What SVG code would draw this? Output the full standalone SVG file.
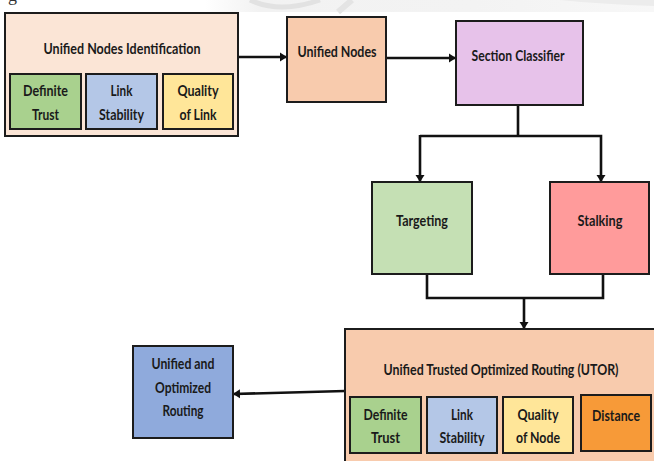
<svg xmlns="http://www.w3.org/2000/svg" width="654" height="461" viewBox="0 0 654 461">
  <defs>
    <marker id="arrow" markerUnits="userSpaceOnUse" markerWidth="9" markerHeight="10" refX="7" refY="5" orient="auto">
      <path d="M0,0.5 L7,5 L0,9.5 Z" fill="#111"/>
    </marker>
    <linearGradient id="band" x1="0" y1="0" x2="1" y2="0">
      <stop offset="0" stop-color="#ffffff"/>
      <stop offset="0.12" stop-color="#f2f2f2"/>
      <stop offset="0.6" stop-color="#f3f3f3"/>
      <stop offset="1" stop-color="#f7f7f7"/>
    </linearGradient>
    <style>
      .box { stroke: #1c1c1c; stroke-width: 2; }
      .edge { fill: none; stroke: #1c1c1c; stroke-width: 2; }
      .lbl { font-family: Lato, "Liberation Sans", sans-serif; font-weight: bold; font-size: 14.5px; fill: #1a1a1a; text-anchor: middle; }
      .wire { fill: none; stroke: #111; stroke-width: 2.6; }
    </style>
  </defs>

  <rect width="654" height="461" fill="#ffffff"/>

  <!-- faint banner strip along the top edge -->
  <g id="banner">
    <rect x="205" y="0" width="449" height="12" fill="url(#band)"/>
    <path d="M250,0 Q280,14 320,0" fill="none" stroke="#e2e2e2" stroke-width="5"/>
    <path d="M338,12 L352,0" stroke="#e4e4e4" stroke-width="6"/>
    <path d="M560,0 L654,0 L654,6 Q600,4 560,0 Z" fill="#ececec"/>
    <text x="8" y="1" font-family="'Liberation Serif', serif" font-size="18" fill="#333">g</text>
  </g>

  <!-- connectors -->
  <g id="connectors">
    <line class="wire" x1="238" y1="57" x2="287" y2="57" marker-end="url(#arrow)"/>
    <line class="wire" x1="386" y1="58" x2="456" y2="58" marker-end="url(#arrow)"/>
    <polyline class="wire" points="518,105 518,136"/>
    <polyline class="wire" points="420,136 601,136 601,182" marker-end="url(#arrow)"/>
    <line class="wire" x1="420" y1="135" x2="420" y2="182" marker-end="url(#arrow)"/>
    <polyline class="wire" points="427,274 427,298 603,298 603,274"/>
    <line class="wire" x1="524" y1="298" x2="524" y2="329" marker-end="url(#arrow)"/>
    <line class="wire" x1="345" y1="391" x2="233" y2="394" marker-end="url(#arrow)"/>
  </g>

  <!-- Unified Nodes Identification -->
  <g id="node-identification">
    <rect class="box" x="5" y="13" width="233" height="123" fill="#FBE5D6"/>
    <text class="lbl" x="122" y="54" textLength="157" lengthAdjust="spacingAndGlyphs">Unified Nodes Identification</text>
    <rect class="box" x="10" y="74" width="71" height="55" fill="#A9D18E"/>
    <text class="lbl" x="45.5" y="96" textLength="45" lengthAdjust="spacingAndGlyphs">Definite</text>
    <text class="lbl" x="45.5" y="120" textLength="27" lengthAdjust="spacingAndGlyphs">Trust</text>
    <rect class="box" x="86" y="74" width="71" height="55" fill="#B4C7E7"/>
    <text class="lbl" x="121.5" y="96" textLength="22" lengthAdjust="spacingAndGlyphs">Link</text>
    <text class="lbl" x="121.5" y="120" textLength="45" lengthAdjust="spacingAndGlyphs">Stability</text>
    <rect class="box" x="163" y="74" width="70" height="55" fill="#FFE699"/>
    <text class="lbl" x="198" y="96" textLength="41" lengthAdjust="spacingAndGlyphs">Quality</text>
    <text class="lbl" x="198" y="120" textLength="37" lengthAdjust="spacingAndGlyphs">of Link</text>
  </g>

  <!-- Unified Nodes -->
  <g id="node-unified">
    <rect class="box" x="287" y="17" width="99" height="85" fill="#F8CBAD"/>
    <text class="lbl" x="337" y="57" textLength="79" lengthAdjust="spacingAndGlyphs">Unified Nodes</text>
  </g>

  <!-- Section Classifier -->
  <g id="node-classifier">
    <rect class="box" x="456" y="21" width="127" height="84" fill="#E7C2EA"/>
    <text class="lbl" x="518" y="61" textLength="93" lengthAdjust="spacingAndGlyphs">Section Classifier</text>
  </g>

  <!-- Targeting -->
  <g id="node-targeting">
    <rect class="box" x="372" y="182" width="100" height="92" fill="#C5E0B4"/>
    <text class="lbl" x="422" y="226" textLength="52" lengthAdjust="spacingAndGlyphs">Targeting</text>
  </g>

  <!-- Stalking -->
  <g id="node-stalking">
    <rect class="box" x="550" y="182" width="99" height="92" fill="#FF9B9B"/>
    <text class="lbl" x="600" y="226" textLength="45" lengthAdjust="spacingAndGlyphs">Stalking</text>
  </g>

  <!-- Unified Trusted Optimized Routing (UTOR): runs past the right and bottom edges -->
  <g id="node-utor">
    <rect x="345" y="329" width="309" height="132" fill="#F8CBAD"/>
    <path class="edge" d="M654,329 H345 V461"/>
    <text class="lbl" x="501" y="375" textLength="235" lengthAdjust="spacingAndGlyphs">Unified Trusted Optimized Routing (UTOR)</text>
    <rect class="box" x="350" y="397" width="71" height="56" fill="#A9D18E"/>
    <text class="lbl" x="385.5" y="420" textLength="44" lengthAdjust="spacingAndGlyphs">Definite</text>
    <text class="lbl" x="385.5" y="443" textLength="29" lengthAdjust="spacingAndGlyphs">Trust</text>
    <rect class="box" x="427" y="397" width="70" height="56" fill="#B4C7E7"/>
    <text class="lbl" x="462" y="420" textLength="22" lengthAdjust="spacingAndGlyphs">Link</text>
    <text class="lbl" x="462" y="443" textLength="45" lengthAdjust="spacingAndGlyphs">Stability</text>
    <rect class="box" x="503" y="397" width="70" height="56" fill="#FFE699"/>
    <text class="lbl" x="538" y="420" textLength="41" lengthAdjust="spacingAndGlyphs">Quality</text>
    <text class="lbl" x="538" y="443" textLength="44" lengthAdjust="spacingAndGlyphs">of Node</text>
    <rect class="box" x="581" y="395" width="70" height="56" fill="#F79A38"/>
    <text class="lbl" x="616" y="421" textLength="48" lengthAdjust="spacingAndGlyphs">Distance</text>
  </g>

  <!-- Unified and Optimized Routing -->
  <g id="node-routing">
    <rect class="box" x="133" y="346" width="100" height="92" fill="#8FAADC"/>
    <text class="lbl" x="183" y="369" textLength="63" lengthAdjust="spacingAndGlyphs">Unified and</text>
    <text class="lbl" x="183" y="393" textLength="56" lengthAdjust="spacingAndGlyphs">Optimized</text>
    <text class="lbl" x="183" y="416" textLength="41" lengthAdjust="spacingAndGlyphs">Routing</text>
  </g>
</svg>
